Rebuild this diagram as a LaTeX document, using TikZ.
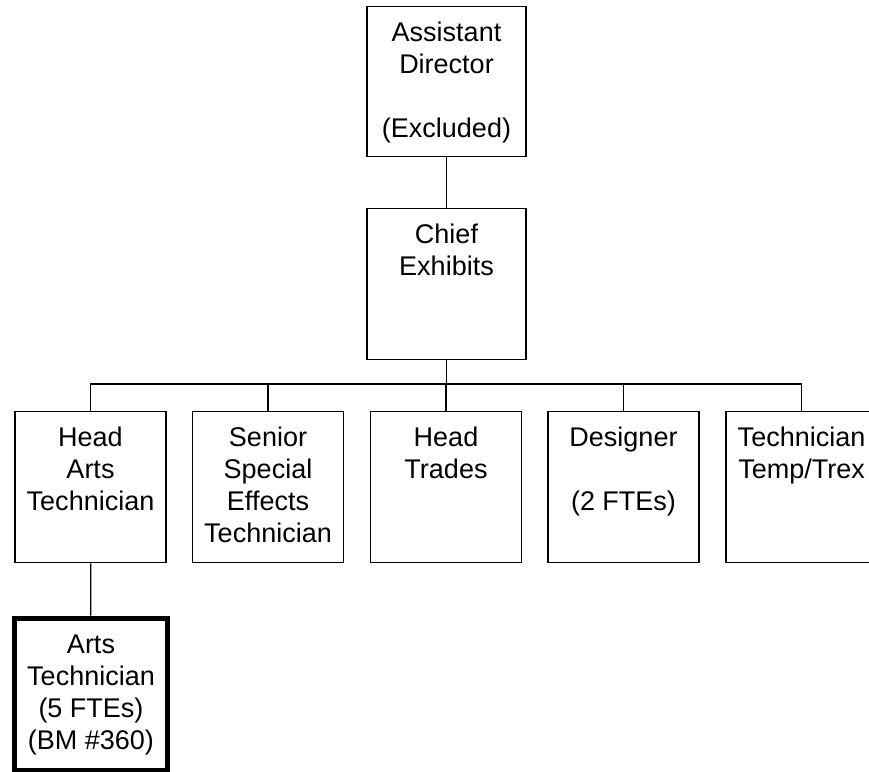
\documentclass[tikz,border=0pt]{standalone}
\usepackage{fontspec}
\setmainfont{Liberation Sans}
\newcommand{\boxtext}[3]{\parbox[c][#1][t]{#2}{\centering\rule{0pt}{35pt}#3}}

\begin{document}
\begin{tikzpicture}[x=1pt,y=-1pt,line width=1.3pt]
        \tikzstyle{every node}= [draw,inner sep=0pt,anchor=north,font=\fontsize{27}{32}\selectfont];
        \clip (0,0) rectangle (869,771);
        \node(ad) at (446.5,6) {\boxtext{150pt}{159pt}{Assistant\\Director\\[32pt](Excluded)}};
        \node(ce) at (446.5,208) {\boxtext{151pt}{159pt}{Chief\\Exhibits}};
        \coordinate (bus) at (446.5,384);
        \node(c1) at (90.5,411) {\boxtext{151pt}{151pt}{Head\\Arts\\Technician}};
        \node(c2) at (268,411) {\boxtext{151pt}{151pt}{Senior\\Special\\Effects\\Technician}};
        \node(c3) at (446,411) {\boxtext{151pt}{151pt}{Head\\Trades}};
        \node(c4) at (623.5,411) {\boxtext{151pt}{151pt}{Designer\\[32pt](2 FTEs)}};
        \node(c5) at (801.5,411) {\boxtext{151pt}{151pt}{Technician\\Temp/Trex}};
        \node(at)[line width=5pt] at (91,615.5) {\boxtext{152pt}{153pt}{Arts\\Technician\\(5 FTEs)\\(BM \#360)}};

        \draw (ad) -- (ce) -- (bus);
        \foreach \x in {1,2,3,4,5}{
          \draw (bus) -| (c\x.north);
        }
        \draw (c1) -- (at);
      \end{tikzpicture}
\end{document}
